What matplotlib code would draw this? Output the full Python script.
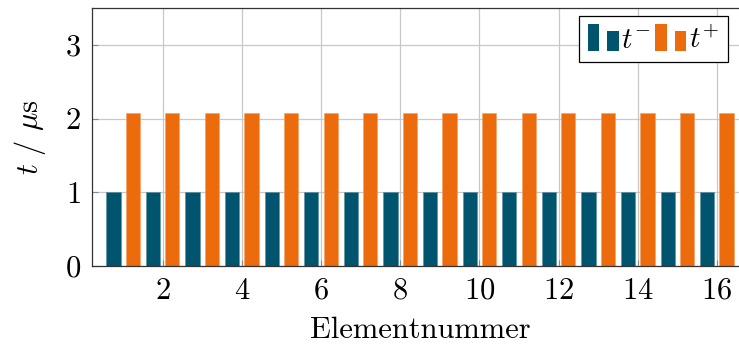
import matplotlib.pyplot as plt
from matplotlib.patches import Rectangle
from matplotlib.legend_handler import HandlerBase

plt.rcParams['font.family'] = 'cmr10'
plt.rcParams['mathtext.fontset'] = 'cm'
plt.rcParams['axes.formatter.use_mathtext'] = True

# measured times per element (microseconds)
elements = list(range(1, 17))
t_minus = [1.0, 1.0, 1.0, 1.0, 1.0, 1.0, 1.0, 1.0,
           1.0, 1.0, 1.0, 1.0, 1.0, 1.0, 1.0, 1.0]
t_plus = [2.07, 2.08, 2.08, 2.07, 2.07, 2.07, 2.07, 2.07,
          2.07, 2.07, 2.07, 2.07, 2.07, 2.08, 2.08, 2.07]
x_ticks = [2, 4, 6, 8, 10, 12, 14, 16]
y_ticks = [0, 1, 2, 3]

teal = '#00546e'
orange = '#ec6b0c'
fs = 22


class BarPairHandler(HandlerBase):
    # pgfplots-like legend icon: two bars of different height
    def create_artists(self, legend, orig_handle, xdescent, ydescent,
                       width, height, fontsize, trans):
        fc = orig_handle.patches[0].get_facecolor()
        w = width * 0.37
        r1 = Rectangle((-xdescent, -ydescent), w, height,
                       facecolor=fc, edgecolor='none', transform=trans)
        r2 = Rectangle((-xdescent + width * 0.64, -ydescent), w, height * 0.76,
                       facecolor=fc, edgecolor='none', transform=trans)
        return [r1, r2]


W, H = 739, 345
fig = plt.figure(figsize=(W / 100, H / 100), dpi=100)
ax = fig.add_axes([92 / W, (H - 266) / H, (748 - 92) / W, (266 - 8) / H])

bw = 0.36
off = 0.245
xm = [e - off for e in elements]
xp = [e + off for e in elements]
b1 = ax.bar(xm, t_minus, bw, color=teal, edgecolor='#5a8fa0', linewidth=0.4,
            label=r'$t^{-}$', zorder=2)
b2 = ax.bar(xp, t_plus, bw, color=orange, edgecolor='#f4a060', linewidth=0.4,
            label=r'$t^{+}$', zorder=2)

ax.set_xlim(0.215, 16.785)
ax.set_ylim(0, 3.5)
ax.set_xticks(x_ticks)
ax.set_yticks(y_ticks)
ax.grid(True, color='#c8c8c8', linewidth=0.9)
ax.set_axisbelow(True)
ax.tick_params(direction='in', length=4, width=0.8, color='#8a8a8a',
               labelsize=fs, pad=8)
for s in ax.spines.values():
    s.set_color('#333333')
    s.set_linewidth(0.9)

ax.set_xlabel('Elementnummer', fontsize=fs, labelpad=9)
ax.set_ylabel(r'$t\ /\ \mu\mathrm{s}$', fontsize=fs, labelpad=12)

leg = ax.legend(handles=[b1, b2], ncol=2, loc='upper right',
                bbox_to_anchor=(728 / W, 1 - 15.5 / H),
                bbox_transform=fig.transFigure, borderaxespad=0,
                fontsize=21, handlelength=1.05, handleheight=1.05,
                handletextpad=0.1, columnspacing=0.15, borderpad=0.3,
                fancybox=False, framealpha=1, edgecolor='black',
                handler_map={type(b1): BarPairHandler()})
leg.get_frame().set_linewidth(0.9)

fig.savefig('out.png', dpi=100)
